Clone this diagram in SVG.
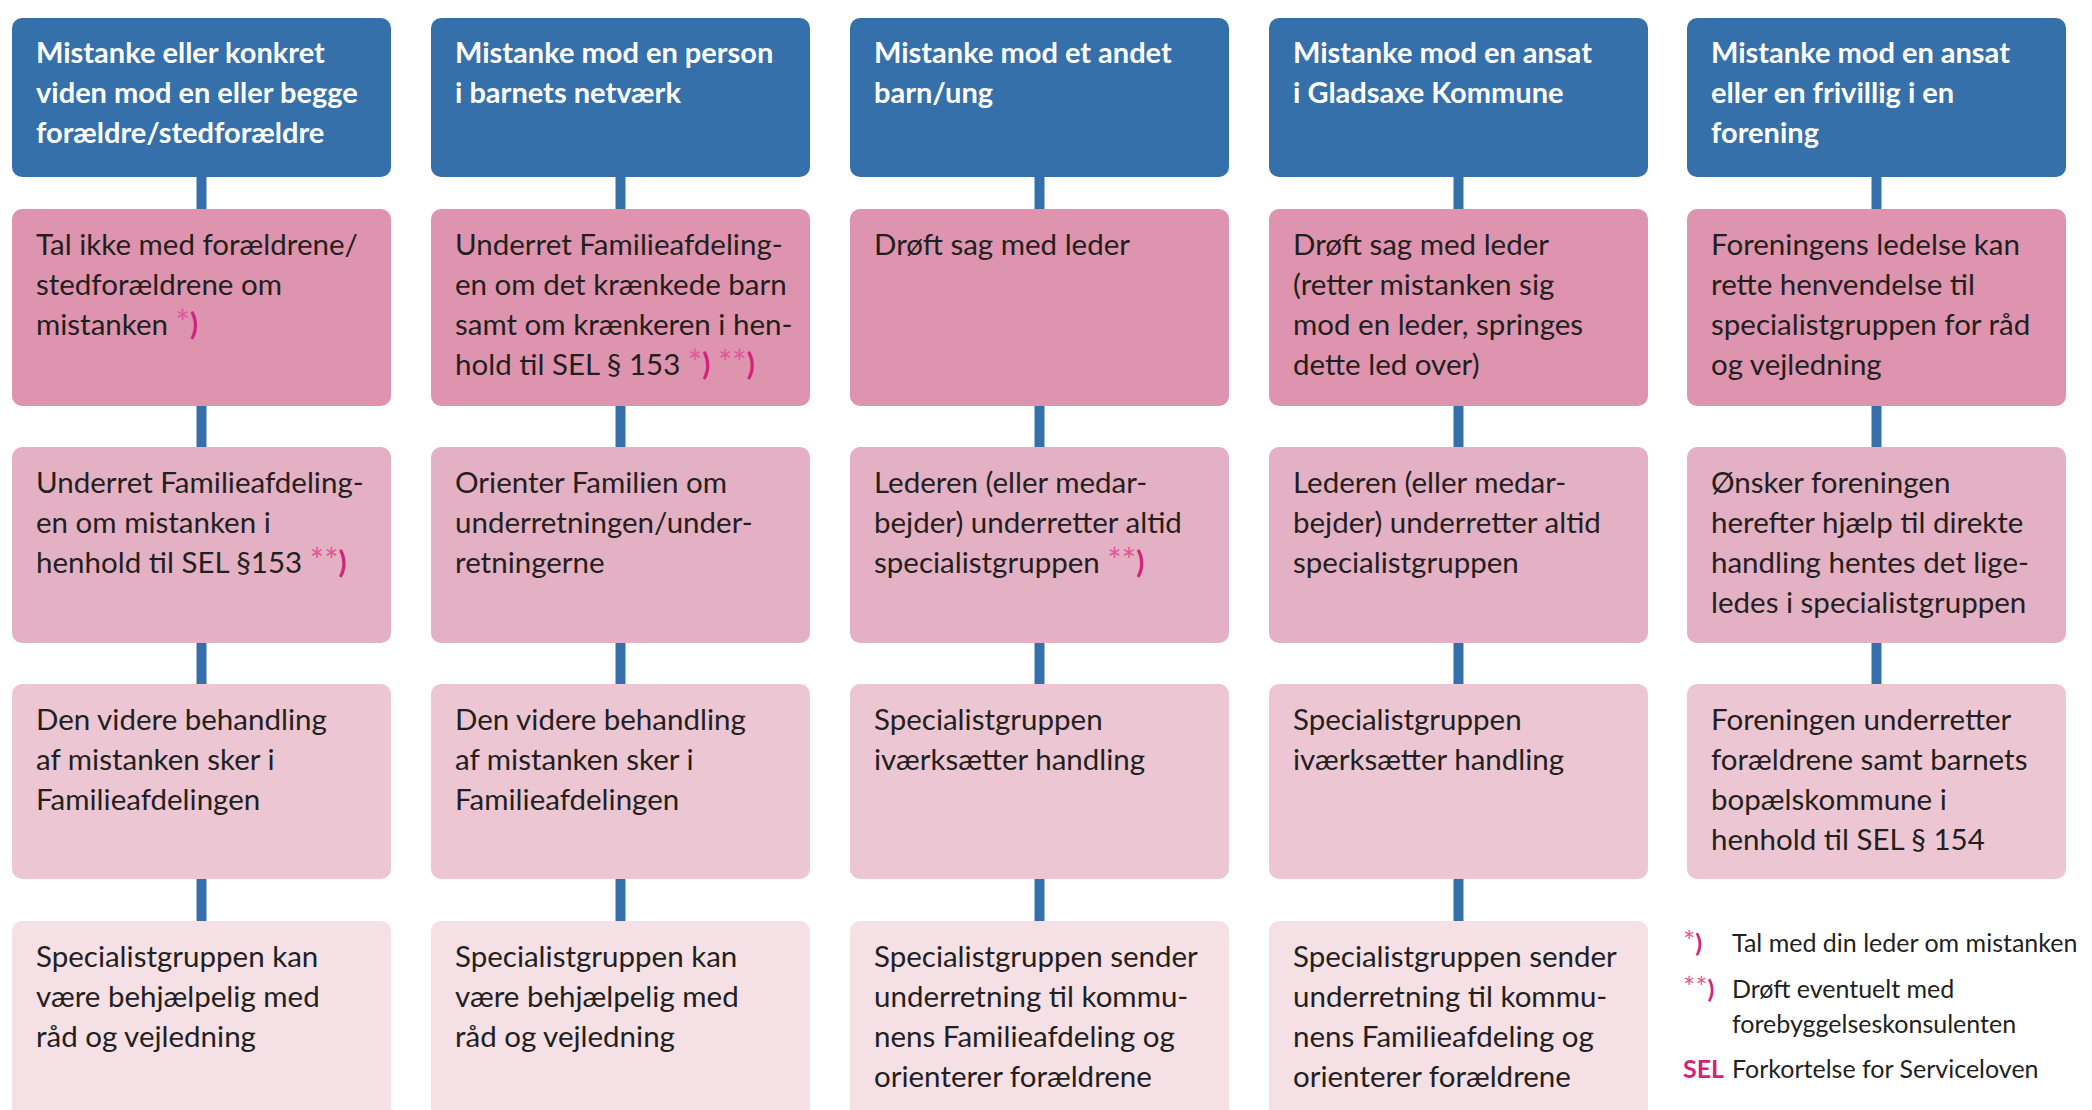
<svg xmlns="http://www.w3.org/2000/svg" width="2092" height="1110" viewBox="0 0 2092 1110">
<style>
.hd{fill:#3670AA}
.r1{fill:#DE94AE}
.r2{fill:#E4B1C4}
.r3{fill:#ECC6D3}
.r4{fill:#F5E0E6}
.bar{fill:#3670AA}
.ht{font-family:Lato,"Open Sans",sans-serif;font-weight:bold;font-size:29px;fill:#FFFFFF}
.bt{font-family:Lato,"Open Sans",sans-serif;font-size:29.5px;fill:#231F20}
.st{fill:#E0589A;font-size:1.15em}
.pa{fill:#D2237A;font-weight:bold}
.lg{font-family:Lato,"Open Sans",sans-serif;font-size:25px;fill:#231F20}
.lgb{font-weight:bold;fill:#D2237A}
</style>
<g id="connectors">
<rect class="bar" x="196.5" y="177" width="10" height="32"/>
<rect class="bar" x="196.5" y="406" width="10" height="41"/>
<rect class="bar" x="196.5" y="643" width="10" height="41"/>
<rect class="bar" x="196.5" y="879" width="10" height="42"/>
<rect class="bar" x="615.5" y="177" width="10" height="32"/>
<rect class="bar" x="615.5" y="406" width="10" height="41"/>
<rect class="bar" x="615.5" y="643" width="10" height="41"/>
<rect class="bar" x="615.5" y="879" width="10" height="42"/>
<rect class="bar" x="1034.5" y="177" width="10" height="32"/>
<rect class="bar" x="1034.5" y="406" width="10" height="41"/>
<rect class="bar" x="1034.5" y="643" width="10" height="41"/>
<rect class="bar" x="1034.5" y="879" width="10" height="42"/>
<rect class="bar" x="1453.5" y="177" width="10" height="32"/>
<rect class="bar" x="1453.5" y="406" width="10" height="41"/>
<rect class="bar" x="1453.5" y="643" width="10" height="41"/>
<rect class="bar" x="1453.5" y="879" width="10" height="42"/>
<rect class="bar" x="1871.5" y="177" width="10" height="32"/>
<rect class="bar" x="1871.5" y="406" width="10" height="41"/>
<rect class="bar" x="1871.5" y="643" width="10" height="41"/>
</g>
<!-- Column 1 -->
<g id="c1-h"><rect class="hd" x="12" y="18" width="379" height="159" rx="10"/>
<text class="ht"><tspan x="36" y="63">Mistanke eller konkret</tspan><tspan x="36" y="103">viden mod en eller begge</tspan><tspan x="36" y="143">forældre/stedforældre</tspan></text></g>
<g id="c1-r1"><rect class="r1" x="12" y="209" width="379" height="197" rx="10"/>
<text class="bt"><tspan x="36" y="255">Tal ikke med forældrene/</tspan><tspan x="36" y="295">stedforældrene om</tspan><tspan x="36" y="335">mistanken <tspan class="st">*</tspan><tspan class="pa">)</tspan></tspan></text></g>
<g id="c1-r2"><rect class="r2" x="12" y="447" width="379" height="196" rx="10"/>
<text class="bt"><tspan x="36" y="493">Underret Familieafdeling-</tspan><tspan x="36" y="533">en om mistanken i</tspan><tspan x="36" y="573">henhold til SEL §153 <tspan class="st">**</tspan><tspan class="pa">)</tspan></tspan></text></g>
<g id="c1-r3"><rect class="r3" x="12" y="684" width="379" height="195" rx="10"/>
<text class="bt"><tspan x="36" y="730">Den videre behandling</tspan><tspan x="36" y="770">af mistanken sker i</tspan><tspan x="36" y="810">Familieafdelingen</tspan></text></g>
<g id="c1-r4"><rect class="r4" x="12" y="921" width="379" height="220" rx="10"/>
<text class="bt"><tspan x="36" y="967">Specialistgruppen kan</tspan><tspan x="36" y="1007">være behjælpelig med</tspan><tspan x="36" y="1047">råd og vejledning</tspan></text></g>
<!-- Column 2 -->
<g id="c2-h"><rect class="hd" x="431" y="18" width="379" height="159" rx="10"/>
<text class="ht"><tspan x="455" y="63">Mistanke mod en person</tspan><tspan x="455" y="103">i barnets netværk</tspan></text></g>
<g id="c2-r1"><rect class="r1" x="431" y="209" width="379" height="197" rx="10"/>
<text class="bt"><tspan x="455" y="255">Underret Familieafdeling-</tspan><tspan x="455" y="295">en om det krænkede barn</tspan><tspan x="455" y="335">samt om krænkeren i hen-</tspan><tspan x="455" y="375">hold til SEL § 153 <tspan class="st">*</tspan><tspan class="pa">)</tspan> <tspan class="st">**</tspan><tspan class="pa">)</tspan></tspan></text></g>
<g id="c2-r2"><rect class="r2" x="431" y="447" width="379" height="196" rx="10"/>
<text class="bt"><tspan x="455" y="493">Orienter Familien om</tspan><tspan x="455" y="533">underretningen/under-</tspan><tspan x="455" y="573">retningerne</tspan></text></g>
<g id="c2-r3"><rect class="r3" x="431" y="684" width="379" height="195" rx="10"/>
<text class="bt"><tspan x="455" y="730">Den videre behandling</tspan><tspan x="455" y="770">af mistanken sker i</tspan><tspan x="455" y="810">Familieafdelingen</tspan></text></g>
<g id="c2-r4"><rect class="r4" x="431" y="921" width="379" height="220" rx="10"/>
<text class="bt"><tspan x="455" y="967">Specialistgruppen kan</tspan><tspan x="455" y="1007">være behjælpelig med</tspan><tspan x="455" y="1047">råd og vejledning</tspan></text></g>
<!-- Column 3 -->
<g id="c3-h"><rect class="hd" x="850" y="18" width="379" height="159" rx="10"/>
<text class="ht"><tspan x="874" y="63">Mistanke mod et andet</tspan><tspan x="874" y="103">barn/ung</tspan></text></g>
<g id="c3-r1"><rect class="r1" x="850" y="209" width="379" height="197" rx="10"/>
<text class="bt"><tspan x="874" y="255">Drøft sag med leder</tspan></text></g>
<g id="c3-r2"><rect class="r2" x="850" y="447" width="379" height="196" rx="10"/>
<text class="bt"><tspan x="874" y="493">Lederen (eller medar-</tspan><tspan x="874" y="533">bejder) underretter altid</tspan><tspan x="874" y="573">specialistgruppen <tspan class="st">**</tspan><tspan class="pa">)</tspan></tspan></text></g>
<g id="c3-r3"><rect class="r3" x="850" y="684" width="379" height="195" rx="10"/>
<text class="bt"><tspan x="874" y="730">Specialistgruppen</tspan><tspan x="874" y="770">iværksætter handling</tspan></text></g>
<g id="c3-r4"><rect class="r4" x="850" y="921" width="379" height="220" rx="10"/>
<text class="bt"><tspan x="874" y="967">Specialistgruppen sender</tspan><tspan x="874" y="1007">underretning til kommu-</tspan><tspan x="874" y="1047">nens Familieafdeling og</tspan><tspan x="874" y="1087">orienterer forældrene</tspan></text></g>
<!-- Column 4 -->
<g id="c4-h"><rect class="hd" x="1269" y="18" width="379" height="159" rx="10"/>
<text class="ht"><tspan x="1293" y="63">Mistanke mod en ansat</tspan><tspan x="1293" y="103">i Gladsaxe Kommune</tspan></text></g>
<g id="c4-r1"><rect class="r1" x="1269" y="209" width="379" height="197" rx="10"/>
<text class="bt"><tspan x="1293" y="255">Drøft sag med leder</tspan><tspan x="1293" y="295">(retter mistanken sig</tspan><tspan x="1293" y="335">mod en leder, springes</tspan><tspan x="1293" y="375">dette led over)</tspan></text></g>
<g id="c4-r2"><rect class="r2" x="1269" y="447" width="379" height="196" rx="10"/>
<text class="bt"><tspan x="1293" y="493">Lederen (eller medar-</tspan><tspan x="1293" y="533">bejder) underretter altid</tspan><tspan x="1293" y="573">specialistgruppen</tspan></text></g>
<g id="c4-r3"><rect class="r3" x="1269" y="684" width="379" height="195" rx="10"/>
<text class="bt"><tspan x="1293" y="730">Specialistgruppen</tspan><tspan x="1293" y="770">iværksætter handling</tspan></text></g>
<g id="c4-r4"><rect class="r4" x="1269" y="921" width="379" height="220" rx="10"/>
<text class="bt"><tspan x="1293" y="967">Specialistgruppen sender</tspan><tspan x="1293" y="1007">underretning til kommu-</tspan><tspan x="1293" y="1047">nens Familieafdeling og</tspan><tspan x="1293" y="1087">orienterer forældrene</tspan></text></g>
<!-- Column 5 -->
<g id="c5-h"><rect class="hd" x="1687" y="18" width="379" height="159" rx="10"/>
<text class="ht"><tspan x="1711" y="63">Mistanke mod en ansat</tspan><tspan x="1711" y="103">eller en frivillig i en</tspan><tspan x="1711" y="143">forening</tspan></text></g>
<g id="c5-r1"><rect class="r1" x="1687" y="209" width="379" height="197" rx="10"/>
<text class="bt"><tspan x="1711" y="255">Foreningens ledelse kan</tspan><tspan x="1711" y="295">rette henvendelse til</tspan><tspan x="1711" y="335">specialistgruppen for råd</tspan><tspan x="1711" y="375">og vejledning</tspan></text></g>
<g id="c5-r2"><rect class="r2" x="1687" y="447" width="379" height="196" rx="10"/>
<text class="bt"><tspan x="1711" y="493">Ønsker foreningen</tspan><tspan x="1711" y="533">herefter hjælp til direkte</tspan><tspan x="1711" y="573">handling hentes det lige-</tspan><tspan x="1711" y="613">ledes i specialistgruppen</tspan></text></g>
<g id="c5-r3"><rect class="r3" x="1687" y="684" width="379" height="195" rx="10"/>
<text class="bt"><tspan x="1711" y="730">Foreningen underretter</tspan><tspan x="1711" y="770">forældrene samt barnets</tspan><tspan x="1711" y="810">bopælskommune i</tspan><tspan x="1711" y="850">henhold til SEL § 154</tspan></text></g>
<!-- Legend -->
<g id="legend">
<text class="lg" x="1683" y="952"><tspan class="st">*</tspan><tspan class="pa">)</tspan></text>
<text class="lg" x="1732" y="952">Tal med din leder om mistanken</text>
<text class="lg" x="1683" y="998"><tspan class="st">**</tspan><tspan class="pa">)</tspan></text>
<text class="lg"><tspan x="1732" y="998">Drøft eventuelt med</tspan><tspan x="1732" y="1033">forebyggelseskonsulenten</tspan></text>
<text class="lg lgb" x="1683" y="1078">SEL</text>
<text class="lg" x="1732" y="1078">Forkortelse for Serviceloven</text>
</g>
</svg>
